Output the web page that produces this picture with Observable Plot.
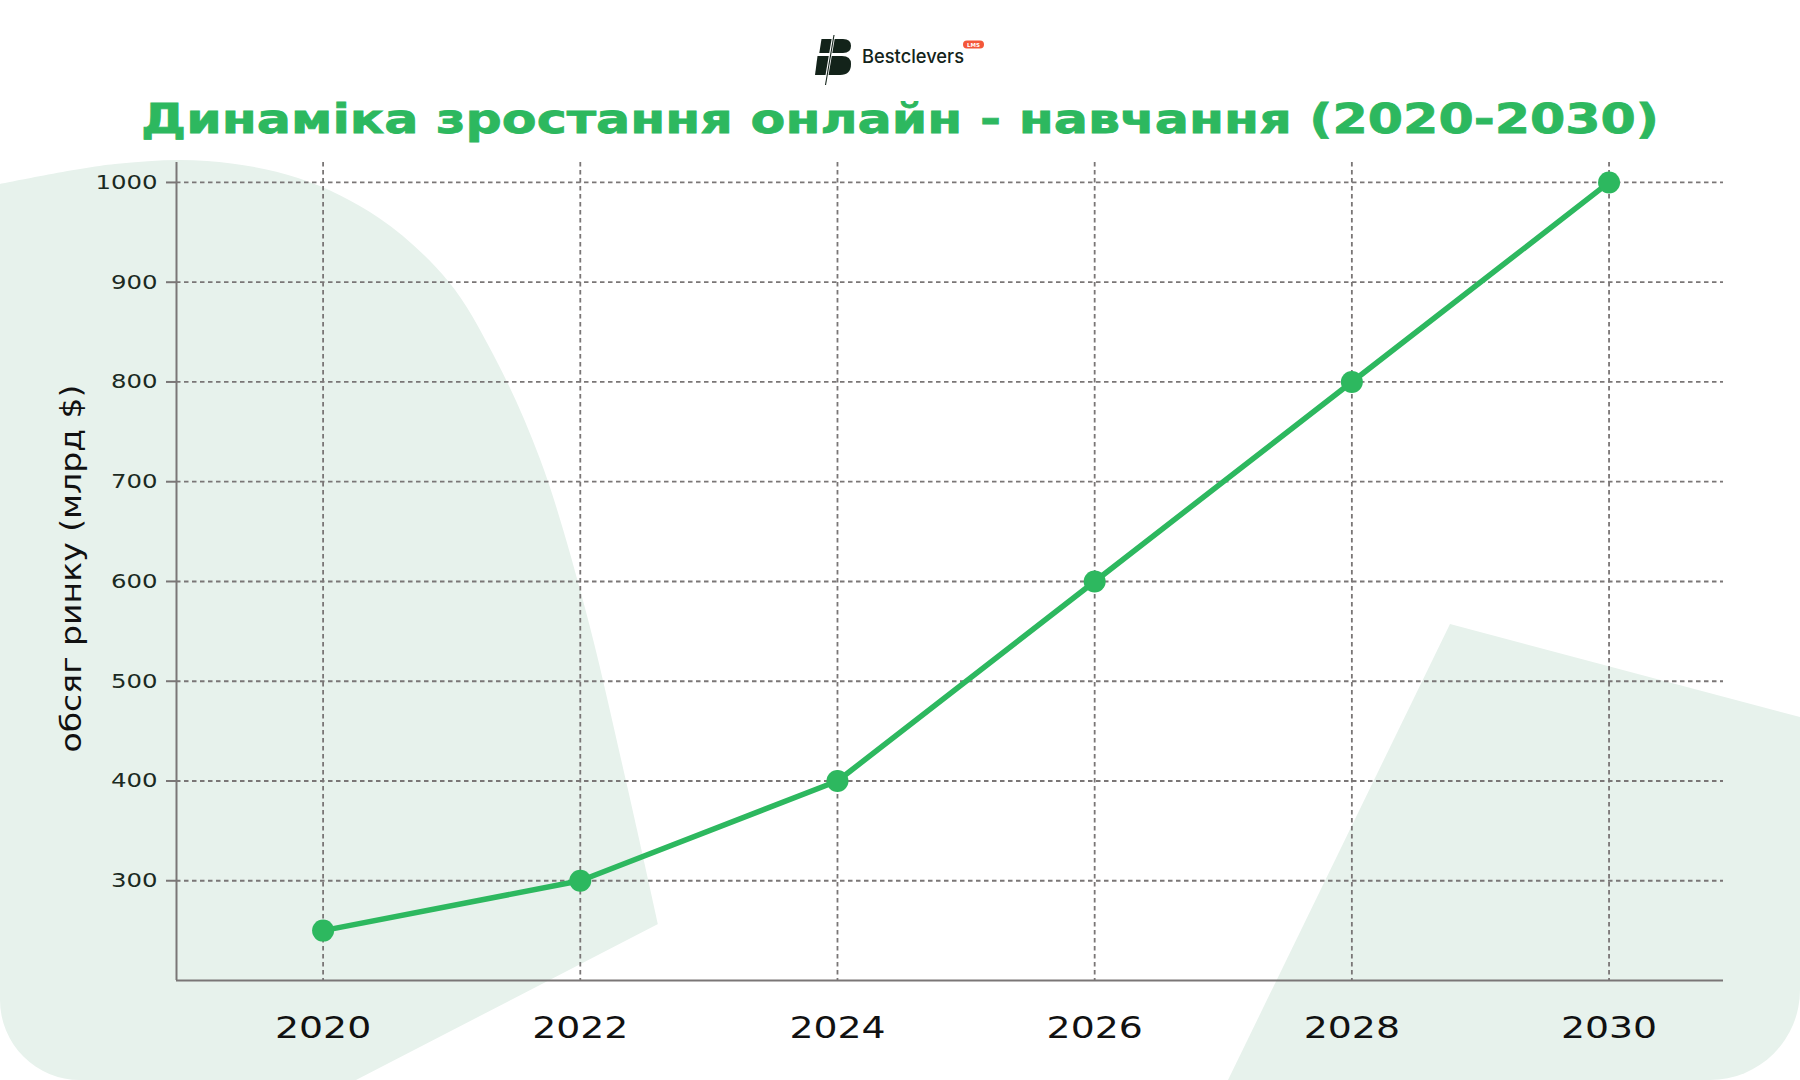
<!DOCTYPE html>
<html>
<head>
<meta charset="utf-8">
<script src="https://cdn.jsdelivr.net/npm/d3@7"></script>
<script src="https://cdn.jsdelivr.net/npm/@observablehq/plot@0.6"></script>
<style>
  html, body { margin: 0; padding: 0; background: #ffffff; }
  #page { position: relative; width: 1800px; height: 1080px; overflow: hidden; background: #ffffff; }
  #bg, #chart { position: absolute; left: 0; top: 0; }
</style>
</head>
<body>
<div id="page">
  <svg id="bg" width="1800" height="1080"></svg>
  <div id="chart"></div>
</div>
<script>
// ---- data ----
const years = [2020, 2022, 2024, 2026, 2028, 2030];
const marketValues = [250, 300, 400, 600, 800, 1000];
const xTicks = [2020, 2022, 2024, 2026, 2028, 2030];
const yTicks = [300, 400, 500, 600, 700, 800, 900, 1000];
const titleText = "Динаміка зростання онлайн - навчання (2020-2030)";
const yLabelText = "обсяг ринку (млрд $)";
const brandText = "Bestclevers";
const badgeText = "LMS";

const data = years.map((y, i) => ({year: y, value: marketValues[i]}));

const GREEN = "#2DB85F";
const GRID = "#7a7676";
const SHAPE = "#E7F2EC";

// ---- decorative background, title and logo ----
const bg = d3.select("#bg");
const blobTop = [[0,184],[115,164],[207,161],[298,178],[379,218],[448,281],[494,356],[540,459],[585,608],[626,781],[658,924]];
const topPath = d3.line().curve(d3.curveCatmullRom)(blobTop);
bg.append("path")
  .attr("d", topPath + " L356,1080 L80,1080 A80,80 0 0 1 0,1000 Z")
  .attr("fill", SHAPE);
bg.append("path")
  .attr("d", "M1450,624 L1800,717 L1800,990 A90,90 0 0 1 1710,1080 L1228,1080 Z")
  .attr("fill", SHAPE);

// title
bg.append("text")
  .attr("x", 900).attr("y", 133)
  .attr("text-anchor", "middle")
  .attr("font-family", "DejaVu Sans")
  .attr("font-weight", "bold")
  .attr("font-size", 41)
  .attr("fill", GREEN)
  .attr("stroke", GREEN)
  .attr("stroke-width", 0.8)
  .attr("textLength", 1518)
  .attr("lengthAdjust", "spacingAndGlyphs")
  .text(titleText);

// logo icon
const logo = bg.append("g");
logo.append("path")
  .attr("d", "M821.5,39 L843,39 Q851,39 851,46 Q851,53 843,53 L819.3,53 Z")
  .attr("fill", "#13231a");
logo.append("path")
  .attr("d", "M817.5,56 L842,56 Q851,56 851,64 Q851,75 840,75 L815,75 Z")
  .attr("fill", "#13231a");
logo.append("line")
  .attr("x1", 834).attr("y1", 34).attr("x2", 825.5).attr("y2", 84)
  .attr("stroke", "#ffffff").attr("stroke-width", 3);
logo.append("line")
  .attr("x1", 834).attr("y1", 35).attr("x2", 825.5).attr("y2", 85)
  .attr("stroke", "#13231a").attr("stroke-width", 1.1);
bg.append("text")
  .attr("x", 862).attr("y", 63)
  .attr("font-family", "Inter")
  .attr("font-weight", 500)
  .attr("font-size", 18.5)
  .attr("fill", "#13231a")
  .attr("textLength", 102)
  .attr("lengthAdjust", "spacingAndGlyphs")
  .text(brandText);
bg.append("rect")
  .attr("x", 963).attr("y", 40.5).attr("width", 21).attr("height", 8).attr("rx", 4)
  .attr("fill", "#F4573A");
bg.append("text")
  .attr("x", 973.5).attr("y", 46.8)
  .attr("text-anchor", "middle")
  .attr("font-family", "DejaVu Sans")
  .attr("font-weight", "bold")
  .attr("font-size", 5.5)
  .attr("fill", "#ffffff")
  .text(badgeText);

// ---- chart ----
const xDomain = [2018.86, 2030.89];
const yDomain = [200, 1020];

const chart = Plot.plot({
  width: 1800,
  height: 1080,
  marginLeft: 176,
  marginRight: 77,
  marginTop: 162,
  marginBottom: 100,
  style: {fontFamily: "DejaVu Sans", background: "transparent", overflow: "visible"},
  x: {domain: xDomain},
  y: {domain: yDomain},
  marks: [
    Plot.gridY(yTicks, {stroke: GRID, strokeOpacity: 1, strokeWidth: 1.8, strokeDasharray: "4.5,3.5"}),
    Plot.gridX(xTicks, {stroke: GRID, strokeOpacity: 1, strokeWidth: 1.8, strokeDasharray: "4.5,3.5"}),
    Plot.ruleX([xDomain[0]], {stroke: GRID, strokeWidth: 2}),
    Plot.ruleY([yDomain[0]], {stroke: GRID, strokeWidth: 2}),
    Plot.axisY({ticks: yTicks, tickSize: 10, tickPadding: 9, fontSize: 20, stroke: GRID, strokeWidth: 2, fill: "#1b2a22", tickFormat: d => String(d), label: null}),
    Plot.axisX({ticks: xTicks, tickSize: 0, tickPadding: 36, fontSize: 30, fill: "#111111", tickFormat: d => String(d), label: null}),
    Plot.line(data, {x: "year", y: "value", stroke: GREEN, strokeWidth: 5.5}),
    Plot.dot(data, {x: "year", y: "value", r: 11, fill: GREEN}),
    Plot.text([yLabelText], {frameAnchor: "left", textAnchor: "middle", dx: -104, dy: -3, rotate: -90, fontSize: 28, fill: "#111111", text: d => d})
  ]
});
document.getElementById("chart").appendChild(chart);

// widen the tick labels to imitate the extended typeface
function stretch(sel, factor) {
  d3.select(chart).selectAll(sel).each(function() {
    const L = this.getComputedTextLength();
    this.setAttribute("textLength", L * factor);
    this.setAttribute("lengthAdjust", "spacingAndGlyphs");
  });
}
stretch('g[aria-label="y-axis tick label"] text', 1.22);
stretch('g[aria-label="x-axis tick label"] text', 1.26);
d3.select(chart).selectAll('g[aria-label="text"] text').each(function() {
  this.setAttribute("textLength", 368);
  this.setAttribute("lengthAdjust", "spacingAndGlyphs");
});
</script>
</body>
</html>
